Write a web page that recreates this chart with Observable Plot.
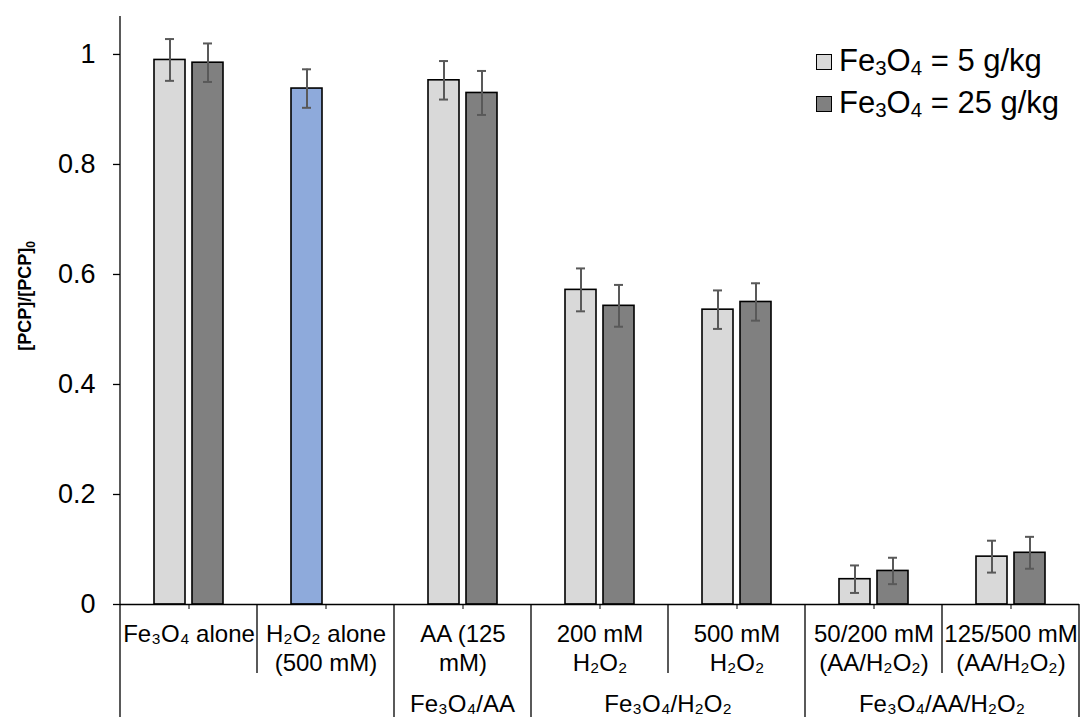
<!DOCTYPE html>
<html><head><meta charset="utf-8">
<script src="https://cdn.jsdelivr.net/npm/d3@7"></script>
<script src="https://cdn.jsdelivr.net/npm/@observablehq/plot@0.6"></script>
<style>
body{margin:0;background:#fff;font-family:"Liberation Sans",Arial,sans-serif;}
#wrap{position:relative;width:1083px;height:717px;overflow:hidden}
#legend{position:absolute;left:816px;top:41px;font-size:31px;line-height:42px;color:#000;white-space:nowrap}
.row{display:flex;align-items:center;height:42px}
.sw{width:14px;height:14px;border:1.6px solid #000;margin-right:7px}
.sb{font-size:0.66em;position:relative;top:0.22em}
</style></head><body><div id="wrap"></div>
<script>
const categories = ["Fe₃O₄ alone", "H₂O₂ alone\n(500 mM)", "AA (125\nmM)", "200 mM\nH₂O₂", "500 mM\nH₂O₂", "50/200 mM\n(AA/H₂O₂)", "125/500 mM\n(AA/H₂O₂)"];
const groups = ["", "", "Fe₃O₄/AA", "Fe₃O₄/H₂O₂", "Fe₃O₄/H₂O₂", "Fe₃O₄/AA/H₂O₂", "Fe₃O₄/AA/H₂O₂"];
const series = ["Fe₃O₄ = 5 g/kg", "Fe₃O₄ = 25 g/kg"];
const hasFe = [true, false, true, true, true, true, true];
const value5 = [0.990, 0.938, 0.953, 0.572, 0.536, 0.046, 0.087];
const err5 = [0.038, 0.035, 0.035, 0.039, 0.035, 0.025, 0.029];
const value25 = [0.985, null, 0.930, 0.543, 0.550, 0.061, 0.094];
const err25 = [0.035, null, 0.040, 0.038, 0.034, 0.024, 0.029];
const yTicks = [0, 0.2, 0.4, 0.6, 0.8, 1];
const yMax = 1.069;
const yLabel = "[PCP]/[PCP]";
const yLabelSub = "0";

const rows = [];
categories.forEach((c, i) => {
  if (value5[i] != null) rows.push({cat: c, series: series[0], value: value5[i], err: err5[i], fe: hasFe[i]});
  if (value25[i] != null) rows.push({cat: c, series: series[1], value: value25[i], err: err25[i], fe: hasFe[i]});
});
const fillOf = d => !d.fe ? "#8eaadb" : d.series === series[0] ? "#d9d9d9" : "#808080";
const FONT = "Liberation Sans, Arial, sans-serif";

const chart = Plot.plot({
  width: 1083, height: 717,
  marginLeft: 119, marginRight: 3, marginTop: 16, marginBottom: 113,
  style: {fontFamily: FONT, color: "#000", background: "#fff", overflow: "visible"},
  fx: {domain: categories, padding: 0, label: null},
  x: {domain: series, paddingInner: 0.18, paddingOuter: 0.85, axis: null},
  y: {domain: [0, yMax], axis: null},
  marks: [
    Plot.barY(rows, {fx: "cat", x: "series", y: "value", fill: fillOf, stroke: "#000", strokeWidth: 1.6}),
    Plot.ruleX(rows, {fx: "cat", x: "series", y1: d => d.value - d.err, y2: d => d.value + d.err, stroke: "#595959", strokeWidth: 2}),
    Plot.tickY(rows, {fx: "cat", x: "series", y: d => d.value + d.err, stroke: "#595959", strokeWidth: 2, insetLeft: 11, insetRight: 11}),
    Plot.tickY(rows, {fx: "cat", x: "series", y: d => d.value - d.err, stroke: "#595959", strokeWidth: 2, insetLeft: 11, insetRight: 11}),
    Plot.ruleY([0], {stroke: "#000", strokeWidth: 1.3}),
    Plot.axisY({ticks: yTicks, tickSize: 7, tickPadding: 18, tickFormat: d => String(+d.toFixed(1)), fontSize: 27, label: null, strokeWidth: 1.3}),
    Plot.axisFx({anchor: "bottom", tickSize: 5, tickPadding: 12, fontSize: 24, lineHeight: 1.2, label: null})
  ]
});

const wrap = document.getElementById("wrap");
wrap.appendChild(chart);

// category separators and group labels, positioned through Plot's own fx / y scales
const fx = chart.scale("fx");
const ys = chart.scale("y");
const bw = fx.bandwidth;
const start = i => i < categories.length ? fx.apply(categories[i]) : fx.apply(categories[categories.length - 1]) + bw;
const svg = d3.select(chart);
const y0 = ys.apply(0);
const g = svg.append("g").attr("stroke", "#000").attr("stroke-width", 1.3);
for (let i = 0; i <= categories.length; i++) {
  const long = i === 0 || i === categories.length || groups[i] !== groups[i - 1];
  const xp = start(i);
  g.append("line").attr("x1", xp).attr("x2", xp)
    .attr("y1", i === 0 ? ys.apply(yMax) : y0)
    .attr("y2", long ? 717 : y0 + 69);
}
const uniq = [...new Set(groups.filter(d => d))];
const tg = svg.append("g").attr("font-family", FONT).attr("font-size", 24).attr("text-anchor", "middle").attr("fill", "#000");
uniq.forEach(name => {
  const first = groups.indexOf(name), last = groups.lastIndexOf(name);
  tg.append("text").attr("x", (start(first) + start(last + 1)) / 2).attr("y", 712).text(name);
});
// y axis title
const yt = svg.append("text").attr("transform", `translate(31,${(ys.apply(0.2) + ys.apply(0.8)) / 2 - 33}) rotate(-90)`)
  .attr("text-anchor", "middle").attr("font-family", FONT).attr("font-weight", "bold").attr("font-size", 18).attr("fill", "#000");
yt.append("tspan").text(yLabel);
yt.append("tspan").attr("font-size", 12).attr("dy", 4).text(yLabelSub);

// legend
const colors = ["#d9d9d9", "#808080"];
const leg = document.createElement("div");
leg.id = "legend";
series.forEach((s, i) => {
  const row = document.createElement("div"); row.className = "row";
  const sw = document.createElement("div"); sw.className = "sw"; sw.style.background = colors[i];
  const tx = document.createElement("span");
  s.split(/([₀-₉]+)/).forEach(part => {
    if (/^[₀-₉]+$/.test(part)) {
      const sb = document.createElement("span"); sb.className = "sb";
      sb.textContent = [...part].map(c => String.fromCharCode(c.charCodeAt(0) - 0x2080 + 48)).join("");
      tx.appendChild(sb);
    } else tx.appendChild(document.createTextNode(part));
  });
  row.appendChild(sw); row.appendChild(tx); leg.appendChild(row);
});
wrap.appendChild(leg);
</script></body></html>
